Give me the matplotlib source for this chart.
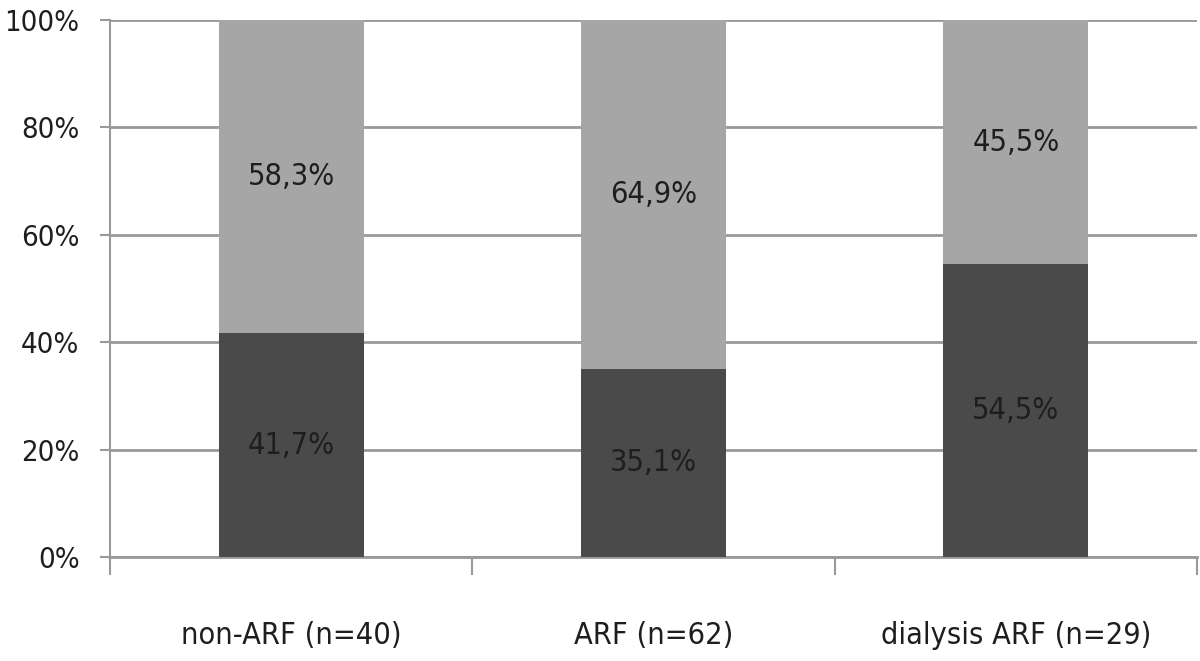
import matplotlib.pyplot as plt
import numpy as np

# data
groups = ['non-ARF (n=40)', 'ARF (n=62)', 'dialysis ARF (n=29)']
bottom_pct = [41.7, 35.1, 54.5]
top_pct = [58.3, 64.9, 45.5]

# narrow font, closest to the Calibri-like original
plt.rcParams['font.family'] = 'DejaVu Sans'
plt.rcParams['font.stretch'] = 'condensed'

fig = plt.figure(figsize=(12, 6.61), dpi=100)
ax = fig.add_axes([110 / 1200, 104 / 661, 1087 / 1200, 537 / 661])

x = np.arange(len(groups))
ax.bar(x, bottom_pct, width=0.4, color='#4a4a4a', zorder=3)
ax.bar(x, top_pct, width=0.4, bottom=bottom_pct, color='#a6a6a6', zorder=3)

for i in range(len(groups)):
    ax.text(x[i], bottom_pct[i] / 2, f'{bottom_pct[i]:.1f}%'.replace('.', ','),
            ha='center', va='center', fontsize=22, color='#1e1e1e', zorder=4)
    ax.text(x[i], bottom_pct[i] + top_pct[i] / 2, f'{top_pct[i]:.1f}%'.replace('.', ','),
            ha='center', va='center', fontsize=22, color='#1e1e1e', zorder=4)

ax.set_xlim(-0.5, len(groups) - 0.5)
ax.set_ylim(0, 100)
ax.set_yticks(range(0, 101, 20))
ax.set_yticklabels([f'{v}%' for v in range(0, 101, 20)], fontsize=21)
ax.set_xticks(x)
ax.set_xticklabels(groups, fontsize=22)
ax.set_xticks(np.arange(-0.5, len(groups), 1), minor=True)

ax.yaxis.grid(True, color='#999999', linewidth=2, zorder=0)
ax.tick_params(axis='y', length=7, width=1.5, color='#999999', pad=15, labelcolor='#1e1e1e')
ax.tick_params(axis='x', which='major', length=0, pad=46, labelcolor='#1e1e1e')
ax.tick_params(axis='x', which='minor', length=13, width=1.5, color='#999999')

for s in ['top', 'right']:
    ax.spines[s].set_visible(False)
ax.spines['left'].set_color('#999999')
ax.spines['left'].set_linewidth(1.5)
ax.spines['bottom'].set_color('#999999')
ax.spines['bottom'].set_linewidth(2)

fig.savefig('out.png', dpi=100)
